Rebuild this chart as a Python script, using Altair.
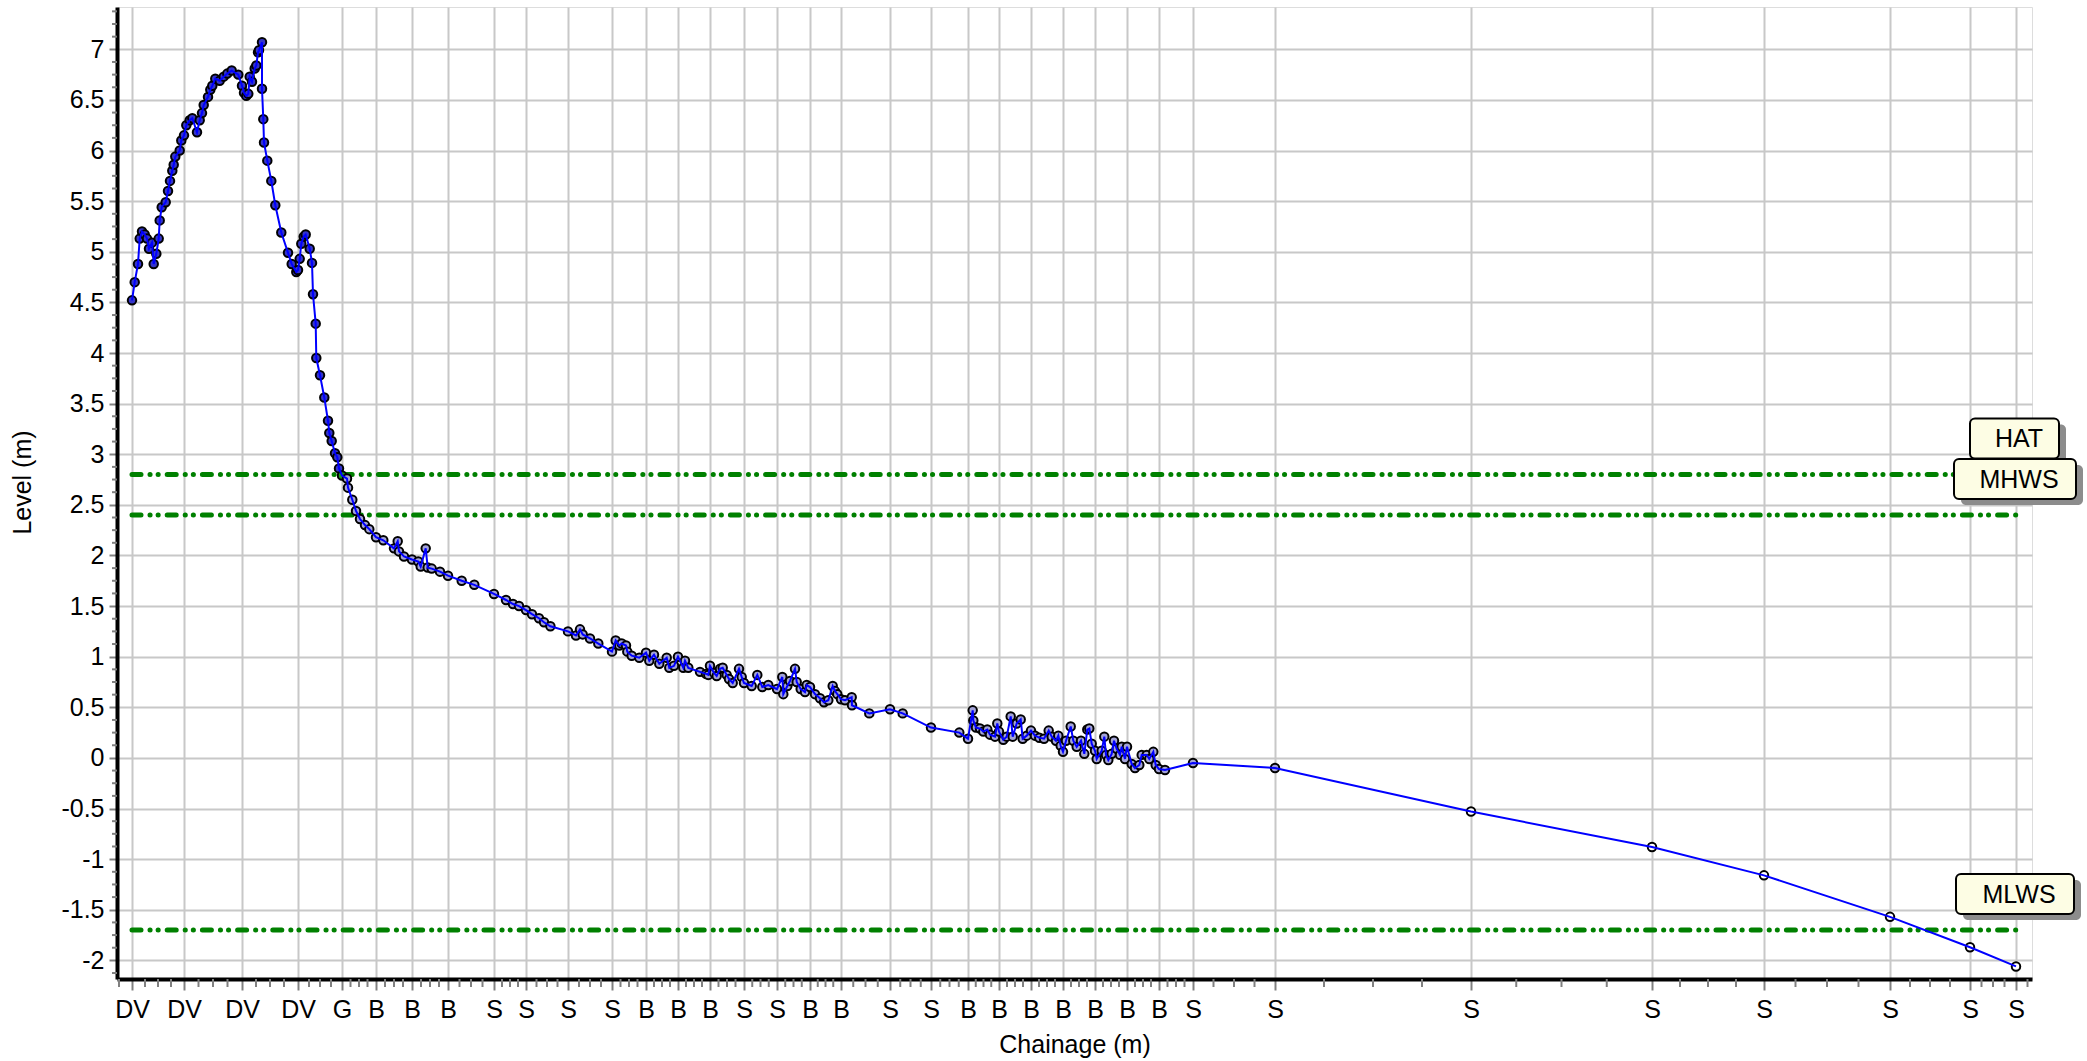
import altair as alt
import pandas as pd

# ---------------- data ----------------
chainage = [
    0.0, 0.27, 0.6, 0.77, 1.0, 1.27, 1.5, 1.7, 2.0, 2.17, 2.43, 2.67, 2.77, 2.97, 3.37, 3.6, 3.8,
    4.03, 4.17, 4.33, 4.77, 4.93, 5.2, 5.43, 5.77, 6.03, 6.5, 6.77, 7.0, 7.17, 7.6, 7.83, 8.03,
    8.33, 8.77, 9.17, 9.53, 9.97, 10.63, 11.0, 11.2, 11.43, 11.63, 11.77, 12.0, 12.27, 12.43,
    12.6, 12.7, 13.0, 13.0, 13.13, 13.2, 13.53, 13.93, 14.33, 14.93, 15.6, 15.97, 16.43, 16.6,
    16.77, 16.93, 17.17, 17.37, 17.77, 18.0, 18.1, 18.37, 18.43,
    18.8, 19.23, 19.6, 19.73, 19.97, 20.3, 20.53, 20.7, 21.0, 21.5, 21.6, 22.03, 22.4, 22.8,
    23.3, 23.73, 24.4, 25.13, 26.2, 26.57, 26.7, 27.2, 28.0, 28.63, 28.87, 29.37, 29.57, 29.97,
    30.8, 31.6, 32.97, 34.23, 36.2,
    37.4, 38.1, 38.7, 39.4, 40.0, 40.7, 41.2,
    41.84, 43.6, 44.4, 44.8, 45.07, 45.8, 46.63, 48.0, 48.37, 48.73, 48.97, 49.4, 49.53, 49.97,
    50.73, 51.4, 51.73, 52.2, 52.73, 53.47, 53.73, 54.2, 54.6, 55.13, 55.3, 55.63, 56.8, 57.4,
    57.63, 57.8, 58.2, 58.47, 58.8, 59.07, 59.47, 59.7, 60.07, 60.7, 60.97, 61.2, 61.97, 62.53,
    63.03, 63.63, 64.5, 65.03, 65.13, 65.53, 65.8, 66.3, 66.47, 66.87, 67.3, 67.47, 67.8, 68.3,
    68.8, 69.2, 69.63, 70.07, 70.3, 70.53, 70.9, 71.3, 71.97, 72.0, 73.73, 75.8, 77.07, 79.9,
    82.73, 83.6, 84.07, 84.13, 84.4, 84.8, 85.13, 85.53, 85.8, 86.3, 86.53, 86.7, 87.13, 87.47,
    87.87, 88.07, 88.47, 88.87, 89.07, 89.47, 89.9, 90.3, 90.73, 91.2, 91.67, 91.97, 92.4,
    92.63, 92.87, 93.1, 93.4, 93.87, 94.13, 94.47, 94.9, 95.23, 95.53, 95.73, 95.97, 96.3,
    96.47, 96.97, 97.23, 97.4, 97.63, 97.97, 98.2, 98.47, 98.8, 98.97, 99.3, 99.5, 99.97,
    100.3, 100.73, 100.97, 101.47, 101.73, 102.13, 102.37, 102.7, 103.3,
    106.1, 114.3, 133.9, 152.0, 163.2, 175.8, 183.8, 188.4,
]
level = [
    4.52, 4.70, 4.88, 5.13, 5.20, 5.17, 5.13, 5.03, 5.09, 4.88, 4.98, 5.13, 5.31, 5.44, 5.49, 5.60, 5.70,
    5.80, 5.86, 5.94, 6.00, 6.10, 6.15, 6.25, 6.30, 6.32, 6.18, 6.30, 6.37, 6.45, 6.53, 6.60, 6.64,
    6.71, 6.69, 6.73, 6.76, 6.79, 6.75, 6.64, 6.57, 6.54, 6.56, 6.73, 6.68, 6.81, 6.84,
    6.97, 6.99, 7.07, 6.61, 6.31, 6.08, 5.90, 5.70, 5.46, 5.19, 4.99, 4.88, 4.80, 4.82,
    4.93, 5.08, 5.15, 5.17, 5.03, 4.89, 4.58, 4.29, 3.95,
    3.78, 3.56, 3.33, 3.21, 3.13, 3.01, 2.97, 2.86, 2.79, 2.76, 2.67, 2.55, 2.44, 2.36,
    2.30, 2.26, 2.18, 2.15, 2.07, 2.14, 2.04, 1.99, 1.96, 1.94, 1.89, 2.07, 1.88, 1.87,
    1.84, 1.80, 1.75, 1.71, 1.62,
    1.56, 1.52, 1.50, 1.46, 1.42, 1.38, 1.34,
    1.30, 1.25, 1.21, 1.27, 1.22, 1.18, 1.13, 1.05, 1.16, 1.11, 1.13, 1.11, 1.05, 1.01,
    0.99, 1.04, 0.96, 1.02, 0.93, 0.99, 0.89, 0.91, 1.00, 0.89, 0.96, 0.89, 0.85, 0.83,
    0.82, 0.91, 0.84, 0.81, 0.88, 0.89, 0.82, 0.78, 0.74, 0.88, 0.80, 0.74, 0.71, 0.82,
    0.70, 0.72, 0.68, 0.80, 0.63, 0.71, 0.76, 0.88, 0.75, 0.68, 0.65, 0.72, 0.70, 0.63,
    0.59, 0.55, 0.57, 0.71, 0.66, 0.63, 0.58, 0.57, 0.60, 0.52, 0.44, 0.48, 0.44, 0.30,
    0.25, 0.19, 0.47, 0.37, 0.30, 0.29, 0.26, 0.28, 0.23, 0.21, 0.34, 0.26, 0.18, 0.21,
    0.41, 0.21, 0.34, 0.38, 0.19, 0.22, 0.27, 0.22, 0.20, 0.19, 0.27, 0.21, 0.17,
    0.22, 0.12, 0.06, 0.17, 0.31, 0.17, 0.11, 0.17, 0.04, 0.28, 0.29, 0.14, 0.07,
    -0.01, 0.07, 0.21, 0.03, -0.02, 0.04, 0.17, 0.09, 0.03, 0.11, -0.01, 0.11, -0.06,
    -0.10, -0.07, 0.03, 0.03, -0.01, 0.06, -0.07, -0.11, -0.12,
    -0.05, -0.10, -0.53, -0.88, -1.16, -1.57, -1.87, -2.06,
]

tick_chainage = [0.0, 5.2, 11.0, 16.6, 21.0, 24.4, 28.0, 31.6, 36.2, 39.4, 43.6, 48.0,
                 51.4, 54.6, 57.8, 61.2, 64.5, 67.8, 70.9, 75.8, 79.9, 83.6, 86.7, 89.9,
                 93.1, 96.3, 99.5, 102.7, 106.1, 114.3, 133.9, 152.0, 163.2, 175.8, 183.8, 188.4]
tick_code = ["DV", "DV", "DV", "DV", "G", "B", "B", "B", "S", "S", "S", "S",
             "B", "B", "B", "S", "S", "B", "B", "S", "S", "B", "B", "B",
             "B", "B", "B", "B", "S", "S", "S", "S", "S", "S", "S", "S"]

tide_name = ["HAT", "MHWS", "MLWS"]
tide_level = [2.8, 2.4, -1.7]

y_ticks = [-2, -1.5, -1, -0.5, 0, 0.5, 1, 1.5, 2, 2.5, 3, 3.5, 4, 4.5, 5, 5.5, 6, 6.5, 7]

# ---------------- layout / style ----------------
W, H = 1915, 972
FONT = "Liberation Sans"
X_DOM = [-1.5, 190.0]
Y_DOM = [-2.184, 7.418]
xs = alt.Scale(domain=X_DOM, nice=False, zero=False)
ys = alt.Scale(domain=Y_DOM, nice=False, zero=False)

label_expr = ("[" + ",".join("'%s'" % c for c in tick_code) + "][indexof(["
              + ",".join(repr(v) for v in tick_chainage) + "], datum.value)]")

x_axis = alt.Axis(values=tick_chainage, labelExpr=label_expr, title="Chainage (m)", orient="bottom",
                  grid=True, gridColor="#c8c8c8", gridWidth=2,
                  domainColor="black", domainWidth=4,
                  tickColor="#808080", tickWidth=2, tickSize=11,
                  labelFont=FONT, labelFontSize=25, labelColor="black", labelPadding=7,
                  labelOverlap=False, labelFlush=False,
                  titleFont=FONT, titleFontSize=25, titleFontWeight="normal", titleColor="black",
                  titlePadding=10)
y_axis = alt.Axis(values=y_ticks, labelExpr="'' + datum.value", title="Level (m)", orient="left",
                  grid=True, gridColor="#c8c8c8", gridWidth=2,
                  domainColor="black", domainWidth=4,
                  tickColor="#808080", tickWidth=2, tickSize=8,
                  labelFont=FONT, labelFontSize=25, labelColor="black", labelPadding=5,
                  labelOverlap=False, labelFlush=False,
                  titleFont=FONT, titleFontSize=25, titleFontWeight="normal", titleColor="black",
                  titleAngle=-90, titleX=-95, titleY=475, titleAlign="center", titleBaseline="middle")


def X(field):
    return alt.X(field, type="quantitative", scale=xs, axis=x_axis)


def Y(field):
    return alt.Y(field, type="quantitative", scale=ys, axis=y_axis)


def zone(c):
    if c < 20.95:
        return "dune"
    if abs(c - 21.0) < 1e-9:
        return "gpt"
    if c > 115:
        return "sea"
    return "beach"


prof = pd.DataFrame({"c": chainage, "L": level, "i": list(range(len(chainage))),
                     "g": [zone(c) for c in chainage]})

# minor ticks (each major interval split in four), anchored on the axis edges
minor_x = [tick_chainage[0] - (tick_chainage[1] - tick_chainage[0]) / 4]
for a, b in zip(tick_chainage[:-1], tick_chainage[1:]):
    minor_x += [a + (b - a) * k / 4 for k in (1, 2, 3)]
minor_x.append(tick_chainage[-1] + (tick_chainage[-1] - tick_chainage[-2]) / 4)
minor_y = [k * 0.125 for k in range(-17, 60) if k % 4 != 0]

minor_x_layer = alt.Chart(pd.DataFrame({"c": minor_x, "L": [Y_DOM[0]] * len(minor_x)})).mark_rule(
    color="#808080", strokeWidth=2, y2Offset=8).encode(x=X("c"), y=Y("L"), y2="L")
minor_y_layer = alt.Chart(pd.DataFrame({"L": minor_y, "c": [X_DOM[0]] * len(minor_y)})).mark_rule(
    color="#808080", strokeWidth=2, x2Offset=-5).encode(y=Y("L"), x=X("c"), x2="c")

tide = pd.DataFrame({"name": tide_name, "L": tide_level,
                     "c0": [chainage[0]] * 3, "c1": [chainage[-1]] * 3})

tide_lines = alt.Chart(tide).mark_rule(
    color="#008000", strokeWidth=5, strokeCap="round", strokeDash=[9, 9, 0.1, 8, 0.1, 9]
).encode(x=X("c0"), x2="c1", y=Y("L"))

points = alt.Chart(prof).mark_point(shape="circle", filled=True, size=72, stroke="black",
                                    strokeWidth=2, opacity=1).encode(
    x=X("c"), y=Y("L"),
    fill=alt.Fill("g:N", scale=alt.Scale(domain=["dune", "gpt", "beach", "sea"],
                                          range=["#3535c8", "#1a9a1a", "#a3a3d6", "#ffffff"]),
                  legend=None))

line = alt.Chart(prof).mark_line(color="#0000ff", strokeWidth=2).encode(
    x=X("c"), y=Y("L"), order="i:Q")

box_half = {"HAT": (46, 43), "MHWS": (62, 60), "MLWS": (60, 58)}
box_layers = []
for j, nm in enumerate(tide_name):
    d = tide.iloc[[j]]
    lft, rgt = box_half[nm]
    shadow = alt.Chart(d).mark_rect(color="#8c8c8c", cornerRadius=5,
                                    xOffset=-lft + 7, x2Offset=rgt + 7,
                                    yOffset=-56 + 6, y2Offset=-16 + 6).encode(
        x=X("c1"), x2="c1", y=Y("L"), y2="L")
    box = alt.Chart(d).mark_rect(fill="#fdfde4", stroke="black", strokeWidth=2, cornerRadius=5,
                                 xOffset=-lft, x2Offset=rgt, yOffset=-56, y2Offset=-16).encode(
        x=X("c1"), x2="c1", y=Y("L"), y2="L")
    txt = alt.Chart(d).mark_text(font=FONT, fontSize=25, color="black", align="center",
                                 baseline="middle", xOffset=3, yOffset=-35).encode(
        x=X("c1"), y=Y("L"), text="name:N")
    box_layers += [shadow, box, txt]

chart = alt.layer(minor_x_layer, minor_y_layer, tide_lines, points, line, *box_layers).properties(
    width=W, height=H,
    autosize=alt.AutoSizeParams(type="none"),
    padding={"left": 117, "top": 7, "right": 55, "bottom": 82},
).configure_view(stroke="black", strokeWidth=2).configure(background="white")

chart.save("out.html", embed_options={"renderer": "svg", "actions": False})
